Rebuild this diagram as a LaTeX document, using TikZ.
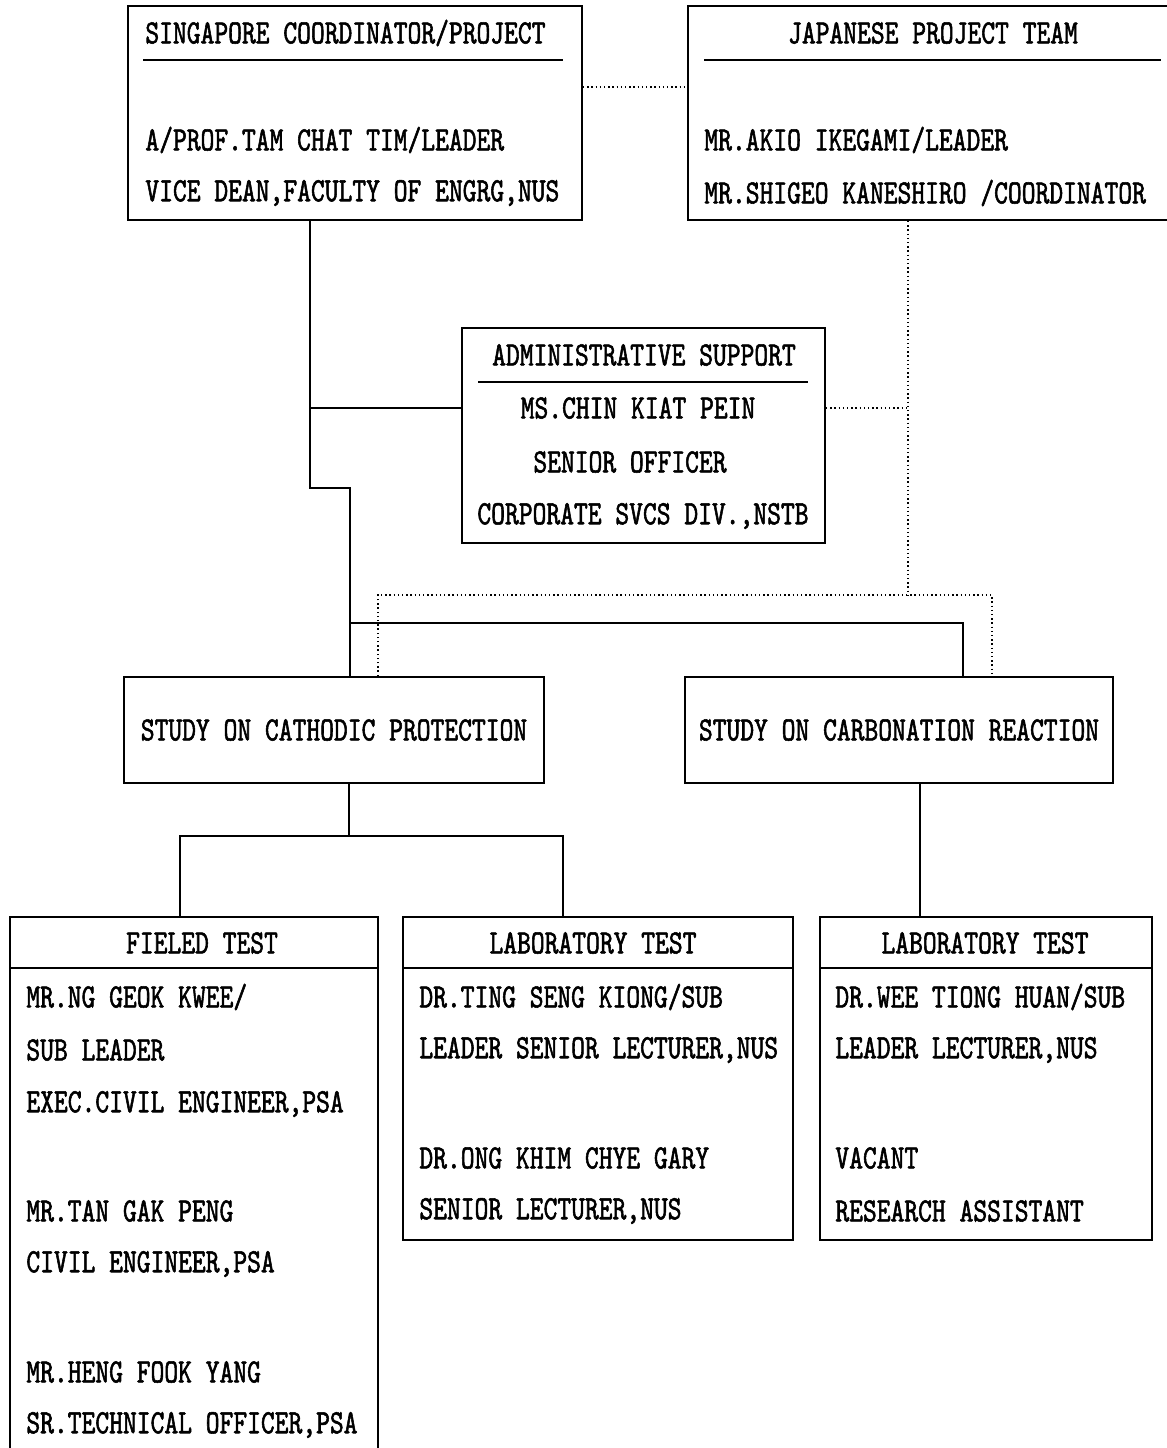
\documentclass[tikz,border=0pt]{standalone}
\usepackage{fontspec}
\usetikzlibrary{fit}
\newfontfamily\jfont{lmmono10-regular.otf}[FakeStretch=0.773,FakeBold=1.6]
\tikzset{
  box/.style={draw, line width=1pt, inner sep=0pt},
  txt/.style={font=\jfont\fontsize{17}{20}\selectfont, inner sep=0pt, anchor=west},
  ttl/.style={font=\jfont\fontsize{17}{20}\selectfont, inner sep=0pt},
  conn/.style={line width=1pt},
  dotl/.style={line width=1pt, dash pattern=on 0.7pt off 1.4pt},
  rule/.style={line width=1pt}
}
\begin{document}
\begin{tikzpicture}[x=0.5pt,y=-0.5pt]
\useasboundingbox (0,0) rectangle (1167,1448);
\begin{scope}
\clip (0,0) rectangle (1167,1448);
% boxes
\node[box, fit={(128,6) (582,220)}] (sg) {};
\node[box, fit={(688,6) (1180,220)}] (jp) {};
\node[box, fit={(462,328) (825,543)}] (adm) {};
\node[box, fit={(124,677) (544,783)}] (cath) {};
\node[box, fit={(685,677) (1113,783)}] (carb) {};
\node[box, fit={(10,917) (378,1460)}] (fld) {};
\node[box, fit={(403,917) (793,1240)}] (lab1) {};
\node[box, fit={(820,917) (1152,1240)}] (lab2) {};
\end{scope}

% Singapore
\node[txt] (sg1) at (145,33) {SINGAPORE COORDINATOR/PROJECT};
\draw[rule] (143,60) -- (563,60);
\node[txt] (sg2) at (145,140) {A/PROF.TAM CHAT TIM/LEADER};
\node[txt] (sg3) at (145,193) {VICE DEAN,FACULTY OF ENGRG,NUS};

% Japanese
\node[ttl] (jp1) at (933,33) {JAPANESE PROJECT TEAM};
\draw[rule] (704,60) -- (1161,60);
\node[txt] (jp2) at (704,140) {MR.AKIO IKEGAMI/LEADER};
\node[txt] (jp3) at (704,193) {MR.SHIGEO KANESHIRO /COORDINATOR};

% Admin
\node[ttl] (ad1) at (644,355) {ADMINISTRATIVE SUPPORT};
\draw[rule] (478,382) -- (808,382);
\node[ttl] (ad2) at (638,408) {MS.CHIN KIAT PEIN};
\node[ttl] (ad3) at (630,462) {SENIOR OFFICER};
\node[ttl] (ad4) at (643,516) {CORPORATE SVCS DIV.,NSTB};

% Studies
\node[ttl] (ca1) at (334,730) {STUDY ON CATHODIC PROTECTION};
\node[ttl] (cb1) at (899,730) {STUDY ON CARBONATION REACTION};

% Field test
\node[ttl] (f0) at (202,943) {FIELED TEST};
\draw[rule] (10,968) -- (378,968);
\node[txt] (f1) at (26,997) {MR.NG GEOK KWEE/};
\node[txt] (f2) at (26,1050) {SUB LEADER};
\node[txt] (f3) at (26,1104) {EXEC.CIVIL ENGINEER,PSA};
\node[txt] (f4) at (26,1211) {MR.TAN GAK PENG};
\node[txt] (f5) at (26,1264) {CIVIL ENGINEER,PSA};
\node[txt] (f6) at (26,1372) {MR.HENG FOOK YANG};
\node[txt] (f7) at (26,1425) {SR.TECHNICAL OFFICER,PSA};

% Lab 1
\node[ttl] (l0) at (593,943) {LABORATORY TEST};
\draw[rule] (403,968) -- (793,968);
\node[txt] (l1) at (419,997) {DR.TING SENG KIONG/SUB};
\node[txt] (l2) at (419,1050) {LEADER SENIOR LECTURER,NUS};
\node[txt] (l3) at (419,1158) {DR.ONG KHIM CHYE GARY};
\node[txt] (l4) at (419,1211) {SENIOR LECTURER,NUS};

% Lab 2
\node[ttl] (m0) at (985,943) {LABORATORY TEST};
\draw[rule] (820,968) -- (1152,968);
\node[txt] (m1) at (835,997) {DR.WEE TIONG HUAN/SUB};
\node[txt] (m2) at (835,1050) {LEADER LECTURER,NUS};
\node[txt] (m3) at (835,1158) {VACANT};
\node[txt] (m4) at (835,1211) {RESEARCH ASSISTANT};

% coordinates for connectors
\coordinate (x310) at (310,0);
\coordinate (x350) at (350,0);
\coordinate (x378) at (378,0);
\coordinate (x908) at (908,0);
\coordinate (x963) at (963,0);
\coordinate (x992) at (992,0);
\coordinate (x349) at (349,0);
\coordinate (x180) at (180,0);
\coordinate (x563) at (563,0);
\coordinate (x920) at (920,0);
\coordinate (y87) at (0,87);
\coordinate (b1) at (310,488);
\coordinate (b2) at (350,488);
\coordinate (h1) at (350,623);
\coordinate (h2) at (963,623);
\coordinate (d1) at (378,595);
\coordinate (d2) at (992,595);
\coordinate (d3) at (908,595);
\coordinate (a1) at (310,408);
\coordinate (a2) at (908,408);
\coordinate (k1) at (349,836);
\coordinate (k2) at (180,836);
\coordinate (k3) at (563,836);

% solid connectors
\draw[conn] (sg.south -| x310) -- (b1) -- (b2) -- (cath.north -| x350);
\draw[conn] (a1) -- (adm.west |- a1);
\draw[conn] (h1) -- (h2) -- (carb.north -| x963);
\draw[conn] (cath.south -| x349) -- (k1);
\draw[conn] (fld.north -| x180) -- (k2) -- (k3) -- (lab1.north -| x563);
\draw[conn] (carb.south -| x920) -- (lab2.north -| x920);

% dotted connectors
\draw[dotl] (sg.east |- y87) -- (jp.west |- y87);
\draw[dotl] (jp.south -| x908) -- (d3);
\draw[dotl] (adm.east |- a2) -- (a2);
\draw[dotl] (cath.north -| x378) -- (d1) -- (d2) -- (carb.north -| x992);
\end{tikzpicture}
\end{document}
